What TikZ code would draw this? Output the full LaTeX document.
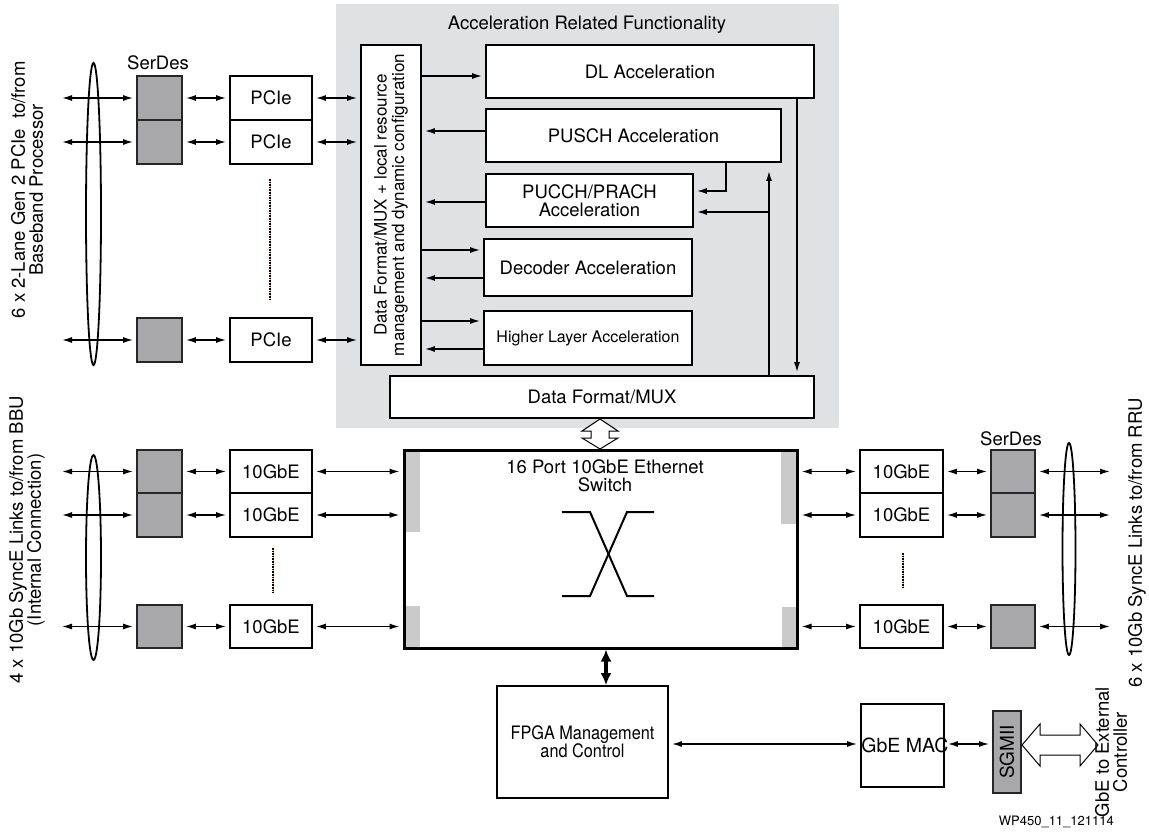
\documentclass[tikz,border=0pt]{standalone}
\usepackage{fontspec}
\setmainfont{TeX Gyre Heros}
\usetikzlibrary{arrows.meta}

\definecolor{panelgray}{RGB}{224,225,227}
\definecolor{serdesgray}{RGB}{168,168,170}
\definecolor{portgray}{RGB}{202,202,202}
\definecolor{dotorange}{RGB}{242,178,92}

\tikzset{
  txt/.style={font=\fontsize{18.5}{18}\selectfont},
  blk/.style={draw, line width=1.8pt, fill=white, inner sep=0pt, align=center, txt},
  serdes/.style={draw=black!85, line width=1.8pt, fill=serdesgray, inner sep=0pt},
  lbl/.style={inner sep=0pt, align=center, txt},
  arr/.style={-{Latex[length=10pt,width=6pt]}, line width=1.4pt, shorten >=3pt},
  biarr/.style={{Latex[length=10pt,width=6pt]}-{Latex[length=10pt,width=6pt]}, line width=1.4pt, shorten >=3pt, shorten <=3pt},
  dotline/.style={line width=1.6pt, densely dotted, preaction={draw, dotorange, solid}},
}
\newcommand{\narrowtxt}[1]{\scalebox{0.88}[1]{#1}}

\begin{document}
\begin{tikzpicture}[x=1pt,y=-1pt]
  \useasboundingbox (0,0) rectangle (1149,834);
  % acceleration panel
  \fill[panelgray] (336,4) rectangle (839,428);
  \node[lbl] (acctitle) at (587,25) {Acceleration Related Functionality};
  \node[blk, minimum width=60pt, minimum height=320pt] (fmt) at (391,205) {};
  \node[lbl, rotate=90, font=\fontsize{17}{17.5}\selectfont] (fmttext) at (fmt)
    {Data Format/MUX + local resource\\management and dynamic configuration};
  \node[blk, minimum width=328pt, minimum height=53pt] (dl) at (650,71.5) {DL Acceleration};
  \node[blk, minimum width=295pt, minimum height=53pt] (pusch) at (633.5,135.5) {PUSCH Acceleration};
  \node[blk, minimum width=207pt, minimum height=53pt] (pucch) at (589.5,200.5) {PUCCH/PRACH\\Acceleration};
  \node[blk, minimum width=208pt, minimum height=57pt] (dec) at (588,267.5) {Decoder Acceleration};
  \node[blk, minimum width=208pt, minimum height=54pt, font=\fontsize{16}{17}\selectfont] (hla) at (588,338) {Higher Layer Acceleration};
  \node[blk, minimum width=424pt, minimum height=42pt] (mux) at (602,397) {Data Format/MUX};
  \draw[arr] (fmt.east |- 0,76) -- (dl.west |- 0,76);
  \draw[arr] (pusch.west) ++(0,-4.5) -- (fmt.east |- 0,131);
  \draw[arr] (pucch.west |- 0,202) -- (fmt.east |- 0,202);
  \draw[arr] (fmt.east |- 0,250) -- (dec.west |- 0,250);
  \draw[arr] (dec.west |- 0,278) -- (fmt.east |- 0,278);
  \draw[arr] (fmt.east |- 0,321) -- (hla.west |- 0,321);
  \draw[arr] (hla.west |- 0,349) -- (fmt.east |- 0,349);
  \draw[arr] (dl.south -| 797,0) -- (mux.north -| 797,0);
  \coordinate (uptop) at (769,168);
  \coordinate (upmid) at (769,212);
  \draw[arr] (mux.north -| uptop) -- (uptop);
  \draw[arr] (upmid) -- (pucch.east |- upmid);
  \draw[arr] (pusch.south -| 726,0) |- (pucch.east |- 0,191);

  % PCIe side
  \node[lbl] (serdestop) at (158,63) {SerDes};
  \draw[line width=1.8pt] (93.5,214) ellipse [x radius=7.5, y radius=151];
  \foreach \n/\y in {A/98,B/142,C/340} {
    \coordinate (pin\n) at (59,\y);
    \node[serdes, minimum width=45pt, minimum height=44pt] (ser\n) at (159.5,\y) {};
    \node[blk, minimum width=82pt, minimum height=44pt] (pcie\n) at (271,\y) {PCIe};
    \draw[biarr] (pin\n) -- (ser\n.west);
    \draw[biarr] (ser\n) -- (pcie\n);
    \draw[biarr] (pcie\n.east) -- (fmt.west |- pcie\n);
  }
  \draw[dotline] (270,179) -- (270,299);
  \node[lbl, rotate=90] (pcielbl) at (27,190) {6 x 2-Lane Gen 2 PCIe\ \ to/from\\Baseband Processor};

  % ethernet switch
  \fill[portgray] (404,450) rectangle (420,532);
  \fill[portgray] (404,606) rectangle (420,648);
  \fill[portgray] (781,450) rectangle (797,524);
  \fill[portgray] (782,607) rectangle (797,648);
  \node[draw, line width=3pt, minimum width=393pt, minimum height=198pt, inner sep=0pt] (sw) at (600.5,549) {};
  \node[lbl] (swtitle) at (605,476) {16 Port 10GbE Ethernet\\Switch};
  \draw[line width=2pt] (562,512) -- (590,512) -- (627,596) -- (654,596);
  \draw[line width=2pt] (654,512) -- (627,512) -- (590,596) -- (562,596);
  \draw[line width=1pt, fill=white] (600,419) -- (618,431) -- (609,431) -- (609,438) -- (618,438)
    -- (600,449) -- (582,438) -- (591,438) -- (591,431) -- (582,431) -- cycle;

  % 10GbE to BBU
  \draw[line width=1.8pt] (93.5,557.5) ellipse [x radius=7.5, y radius=102.5];
  \foreach \n/\y in {D/471.5,E/515,F/626.5} {
    \coordinate (bin\n) at (59,\y);
    \node[serdes, minimum width=45pt, minimum height=43.5pt] (ser\n) at (159.5,\y) {};
    \node[blk, minimum width=82pt, minimum height=43.5pt] (gbe\n) at (271,\y) {10GbE};
    \draw[biarr] (bin\n) -- (ser\n.west);
    \draw[biarr] (ser\n) -- (gbe\n);
    \draw[biarr] (gbe\n.east) -- (sw.west |- gbe\n);
  }
  \draw[dotline] (273,548) -- (273,593);
  \node[lbl, rotate=90] (bbulbl) at (27,540) {4 x 10Gb SyncE Links to/from BBU\\(Internal Connection)};

  % 10GbE to RRU
  \node[lbl] (serdesrru) at (1011,439) {SerDes};
  \draw[line width=1.8pt] (1069,549) ellipse [x radius=6.5, y radius=106];
  \foreach \n/\y in {G/471.5,H/515,I/626.5} {
    \coordinate (rout\n) at (1113,\y);
    \node[blk, minimum width=83pt, minimum height=43.5pt] (gbe\n) at (901.5,\y) {10GbE};
    \node[serdes, minimum width=44pt, minimum height=43.5pt] (ser\n) at (1013,\y) {};
    \draw[biarr] (sw.east |- gbe\n) -- (gbe\n.west);
    \draw[biarr] (gbe\n) -- (ser\n);
    \draw[biarr] (ser\n.east) -- (rout\n);
  }
  \draw[dotline] (903,553) -- (903,588);
  \node[lbl, rotate=90] (rrulbl) at (1137,543) {6 x 10Gb SyncE Links to/from RRU};

  % management
  \node[blk, minimum width=171pt, minimum height=112pt] (fpga) at (582.5,742)
    {\narrowtxt{FPGA Management}\\\narrowtxt{and Control}};
  \draw[line width=3.5pt, {Latex[length=12pt,width=11pt]}-{Latex[length=12pt,width=11pt]}] (sw.south -| 606,0) -- (fpga.north -| 606,0);
  \node[blk, minimum width=83pt, minimum height=83pt] (mac) at (902.5,745.5) {};
  \node[lbl, font=\fontsize{19.5}{19}\selectfont] (mactext) at (905,745) {GbE MAC};
  \node[serdes, minimum width=28pt, minimum height=82pt] (sgmii) at (1007,752) {};
  \node[lbl, rotate=90, font=\fontsize{19}{19}\selectfont] (sgmiitext) at (sgmii) {SGMII};
  \draw[biarr] (fpga.east |- 0,744) -- (mac.west |- 0,744);
  \draw[biarr] (mac.east |- 0,744) -- (sgmii.west |- 0,744);
  \draw[line width=1pt, fill=white] (1022,745) -- (1040,724) -- (1040,735) -- (1080,735) -- (1080,724)
    -- (1098,745) -- (1080,766) -- (1080,755) -- (1040,755) -- (1040,766) -- cycle;
  \node[lbl, rotate=90] (extlbl) at (1111,752) {GbE to External\\Controller};
  \node[lbl, anchor=east, font=\fontsize{13}{13}\selectfont] (figid) at (1114,822) {WP450\_11\_121114};
\end{tikzpicture}
\end{document}
